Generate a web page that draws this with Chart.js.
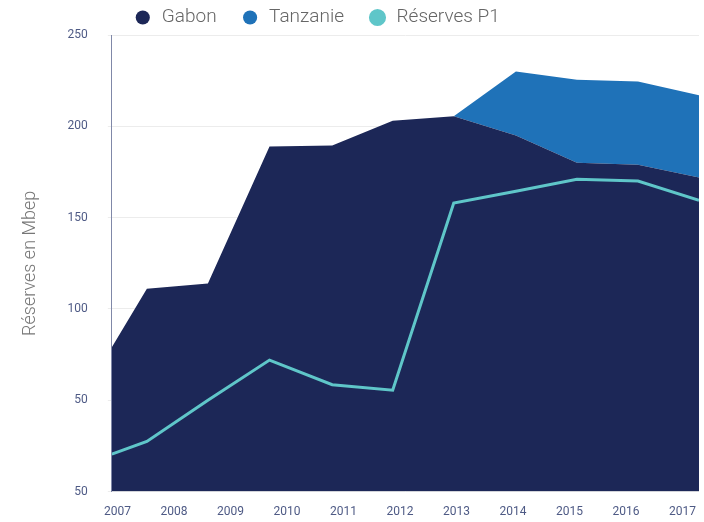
<!DOCTYPE html>
<html>
<head>
<meta charset="utf-8">
<script src="https://cdn.jsdelivr.net/npm/chart.js@4/dist/chart.umd.min.js"></script>
<style>
  body { margin: 0; background: #fff; }
  #wrap { width: 704px; height: 522px; }
</style>
</head>
<body>
<div id="wrap"><canvas id="reservesChart"></canvas></div>
<script>
// x position of every data point (fractional years, as placed on the source chart)
const pointYears = [2006.9, 2007.52, 2008.6, 2009.69, 2010.8, 2011.87, 2012.95, 2014.05, 2015.13, 2016.21, 2017.29];
const yearTicks = [2007, 2008, 2009, 2010, 2011, 2012, 2013, 2014, 2015, 2016, 2017];

const gabon = [79, 111, 114, 189, 189.5, 203, 205.5, 195, 180, 179, 172];
const tanzanie = [null, null, null, null, null, null, 0, 35, 45.5, 45.5, 45];
const reservesP1 = [20.5, 27.5, 50, 72, 58.5, 55.5, 158, 164.5, 171, 170, 159.5];

const yTickValues = [0, 50, 100, 150, 200, 250];
const yTickLabels = ['50', '50', '100', '150', '200', '250'];

const seriesNames = ['Gabon', 'Tanzanie', 'Réserves P1'];
const seriesColors = ['#1c2757', '#1f72b8', '#5fc6c9'];

function toPoints(values) {
    return values.map((v, i) => ({ x: pointYears[i], y: v }));
}

Chart.defaults.font.family = 'Roboto';

// move the legend up and a bit to the left, like in the source picture
const legendShift = {
    id: 'legendShift',
    afterLayout(chart) {
        const lg = chart.legend;
        if (!lg) return;
        lg.left -= 33;
        lg.right -= 33;
        lg.top -= 16;
    }
};

const chart = new Chart(document.getElementById('reservesChart'), {
    type: 'line',
    data: {
        datasets: [
            {
                label: seriesNames[0],
                data: toPoints(gabon),
                backgroundColor: seriesColors[0],
                borderColor: seriesColors[0],
                borderWidth: 0,
                fill: 'origin',
                pointRadius: 0,
                tension: 0,
                stack: 'reserves',
                order: 1
            },
            {
                label: seriesNames[1],
                data: toPoints(tanzanie),
                backgroundColor: seriesColors[1],
                borderColor: seriesColors[1],
                borderWidth: 0,
                fill: '-1',
                pointRadius: 0,
                tension: 0,
                stack: 'reserves',
                order: 2
            },
            {
                label: seriesNames[2],
                data: toPoints(reservesP1),
                backgroundColor: seriesColors[2],
                borderColor: seriesColors[2],
                borderWidth: 3,
                fill: false,
                pointRadius: 0,
                tension: 0,
                stack: 'p1',
                order: 0
            }
        ]
    },
    options: {
        responsive: true,
        maintainAspectRatio: false,
        animation: false,
        layout: { padding: { left: 0, right: 5, top: 0, bottom: -2 } },
        plugins: {
            tooltip: { enabled: false },
            legend: {
                position: 'top',
                maxHeight: 35,
                labels: {
                    usePointStyle: true,
                    pointStyle: 'circle',
                    boxWidth: 19,
                    boxHeight: 10,
                    padding: 24,
                    color: '#666',
                    font: { size: 19, weight: '300' },
                    sort: (a, b) => a.datasetIndex - b.datasetIndex
                }
            }
        },
        scales: {
            x: {
                type: 'linear',
                min: pointYears[0],
                max: pointYears[pointYears.length - 1],
                afterBuildTicks: (axis) => { axis.ticks = yearTicks.map(v => ({ value: v })); },
                grid: { display: false },
                border: { display: false },
                ticks: {
                    color: '#4e5a85',
                    font: { size: 12 },
                    padding: 5,
                    maxRotation: 0,
                    autoSkip: false,
                    callback: (v) => String(v)
                }
            },
            y: {
                stacked: true,
                min: 0,
                max: 250,
                afterBuildTicks: (axis) => { axis.ticks = yTickValues.map(v => ({ value: v })); },
                grid: { color: '#ececec', tickLength: 4 },
                border: { color: '#8088a8', width: 1 },
                ticks: {
                    color: '#4e5a85',
                    font: { size: 12 },
                    padding: 20,
                    callback: (v) => yTickLabels[yTickValues.indexOf(v)]
                },
                title: {
                    display: true,
                    text: 'Réserves en Mbep',
                    color: '#777',
                    font: { size: 18, weight: '300' },
                    padding: { top: 20, bottom: 6 }
                }
            }
        }
    },
    plugins: [legendShift]
});
</script>
</body>
</html>
